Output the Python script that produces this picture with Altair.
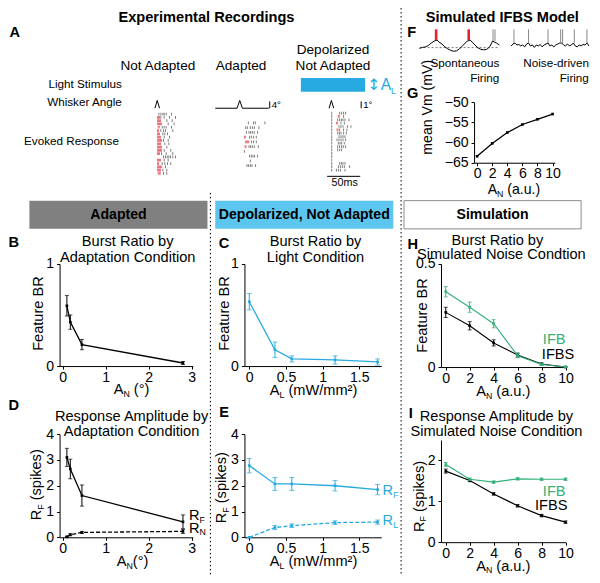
import altair as alt
import pandas as pd

# ---------------- values ----------------
# B: burst ratio by adaptation condition
b_an = [0.10, 0.18, 0.45, 2.80]
b_br = [0.59, 0.43, 0.21, 0.03]
b_br_err = [0.10, 0.07, 0.05, 0.015]
# C: burst ratio by light condition
c_al = [0.0, 0.35, 0.58, 1.17, 1.75]
c_br = [0.63, 0.16, 0.07, 0.06, 0.04]
c_br_err = [0.08, 0.075, 0.03, 0.04, 0.03]
# H: simulated burst ratio
h_an = [0, 2, 4, 6, 8, 10]
h_ifb = [0.365, 0.29, 0.21, 0.055, 0.012, 0.0]
h_ifb_err = [0.025, 0.025, 0.02, 0.01, 0.004, 0.0]
h_ifbs = [0.265, 0.20, 0.117, 0.058, 0.015, 0.0]
h_ifbs_err = [0.025, 0.02, 0.015, 0.01, 0.005, 0.0]
# D: response amplitude by adaptation condition
d_an = [0.10, 0.18, 0.45, 2.80]
d_rf = [3.10, 2.65, 1.62, 0.60]
d_rf_err = [0.35, 0.38, 0.41, 0.27]
d_rn = [0.02, 0.10, 0.19, 0.23]
d_rn_err = [0.02, 0.04, 0.04, 0.08]
# E: response amplitude by light condition
e_al = [0.0, 0.35, 0.58, 1.17, 1.75]
e_rf = [2.78, 2.07, 2.07, 2.00, 1.85]
e_rf_err = [0.28, 0.25, 0.25, 0.20, 0.20]
e_rl = [0.0, 0.38, 0.45, 0.57, 0.59]
e_rl_err = [0.0, 0.08, 0.07, 0.07, 0.08]
# I: simulated response amplitude
i_an = [0, 2, 4, 6, 8, 10]
i_ifb = [1.90, 1.54, 1.47, 1.55, 1.54, 1.54]
i_ifb_err = [0.05, 0.03, 0.03, 0.03, 0.03, 0.03]
i_ifbs = [1.74, 1.51, 1.18, 0.89, 0.65, 0.49]
i_ifbs_err = [0.05, 0.03, 0.03, 0.03, 0.03, 0.03]
# G: mean membrane potential
g_an = [0, 2, 4, 6, 8, 10]
g_vm = [-63.4, -60.2, -57.5, -55.5, -54.2, -52.9]

# F: example simulated traces (ms, mV)
f1_t = [0, 3.75, 7.5, 11.25, 15, 18.75, 22.5, 25, 28.75, 32.5, 36.25, 40, 43.75, 47.5, 51.25,
        55, 58.75, 61.25, 65, 67.5, 71.25, 75, 78.75, 82.5, 86.25, 90, 92.5, 93.75, 98.75, 102.5]
f1_v = [-60.5, -59.5, -59, -57.5, -55, -53, -52, -54, -56, -59, -61, -62.5, -63.5, -63, -61,
        -58, -55, -53, -52, -54, -57, -60, -61.5, -62, -61.5, -59, -55, -53, -55, -57]
f1_rest = -59.7
f1_spk_t = [20.6, 21.9, 62.5, 63.8, 94.4, 96.9]
f1_spk_burst = [1, 1, 1, 1, 0, 0]
f1_spk_from = [-52, -52, -52, -52, -53, -53]
f2_t = [0, 2.5, 5, 7.5, 10, 12.5, 15, 17.5, 20, 22.5, 25, 27.5, 30, 32.5, 35, 37.5, 40, 42.5, 45,
        47.5, 50, 52.5, 55, 57.5, 60, 62.5, 65, 67.5, 70, 72.5, 75, 77.5, 80, 82.5, 85, 87.5, 90,
        92.5, 95, 97.5, 100]
f2_v = [-58, -56, -55, -57, -56.5, -58, -57, -59, -56, -55, -58, -57, -59.5, -57, -58, -56.5, -59,
        -57, -56, -55, -58, -57, -59, -57, -56, -55, -55, -57, -58, -56, -58, -57, -55, -58, -59,
        -57, -58, -56.5, -57, -55, -58]
f2_spk_t = [3.75, 22.5, 47.5, 63.75, 66.25, 81.25, 97.5]
f2_spk_from = [-55, -55, -55, -55, -55, -55, -55]
spk_peak = -41

# A: whisker angle traces (ms, degrees)
wa_na_t = [0, 3.5, 7]
wa_na_v = [0, 1, 0]
wa_ad_t = [0, 33, 37, 41, 81]
wa_ad_v = [0, 0, 4, 0, 0]
wa_dp_t = [0, 3.5, 7]
wa_dp_v = [0, 1, 0]

# A: evoked spike rasters (ms per trial)
na_spikes = [
    [6, 9, 12, 14, 17, 25], [4, 5.5, 7, 9, 14, 22, 31], [4, 5.5, 7, 8.5, 18, 26],
    [4, 5.5, 7, 8.5, 10, 20, 29], [5, 6.5, 11, 14, 17, 25], [4, 5.5, 9, 13, 16, 27],
    [4, 5.5, 7, 12, 15, 19], [4, 5.5, 7, 8.5, 14, 22], [4, 5.5, 7, 8.5, 10, 13, 20],
    [4, 5.5, 7, 8.5, 15, 21], [4, 5.5, 7, 8.5, 10, 18], [4, 5.5, 7, 8.5, 10, 14, 24],
    [4, 5.5, 7, 10, 17, 27], [13, 16, 18.5, 21, 23.5, 27, 31], [4, 5.5, 7, 8.5, 14, 20],
    [4, 5.5, 11, 15, 19, 24], [4, 5.5, 7, 8.5, 10, 16], [4, 5.5, 7, 8.5, 12, 18],
    [5, 6.5, 8, 13, 18],
]
ad_spikes = [
    [50, 58, 60.5, 75], [46, 48.5, 53, 56, 59, 66], [47, 51, 53.5, 56, 59, 64],
    [44, 45.5, 52, 54.5, 58, 62], [46, 47.5, 49, 50.5, 55, 58, 62], [45, 46.5, 51, 53.5, 56, 59, 65],
    [44], [52, 54.5, 57, 59.5, 64], [53], [48, 50.5, 53, 55.5, 61],
]
dp_spikes = [
    [4, 16, 19, 22, 25], [4, 14, 15.5, 22], [4, 13, 16, 18.5, 21, 24, 30], [4, 11, 12.5, 18, 23],
    [4, 15, 18, 21, 28, 33], [4, 12, 13.5, 16, 22, 27], [4, 13, 15.5, 18, 22, 26], [4, 15, 18, 21, 24],
    [4, 12, 15, 18, 21, 25], [4, 14, 16.5, 19, 23], [4, 13, 16, 19, 21.5, 25], [4, 13, 16, 19],
    [4], [4], [4], [4, 16, 18.5, 21, 24], [4, 14, 17, 20, 23, 31], [4, 11, 14, 17, 24], [],
]

# ---------------- layout / style ----------------
K = 0.973
W, H = 584, 567
FONT = "Liberation Sans"
BLUE = "#27a9e1"
HDR_BLUE = "#5cc6ef"
GREEN = "#33b07a"
RED = "#e0252d"
DARK = "#333333"

layers = []
ONE = pd.DataFrame({"k": [0]})


def P(v):
    return round(v * K, 2)


def fs(v):
    return round(v * K, 1)


def text(s, x, y, size=14, weight="normal", align="center", color="black", angle=0, font=FONT):
    props = dict(text=s, fontSize=fs(size), fontWeight=weight, align=align,
                 baseline="middle", color=color, font=font)
    if angle:
        props["angle"] = angle
    layers.append(alt.Chart(ONE).mark_text(**props).encode(x=alt.value(P(x)), y=alt.value(P(y))))


AW = {' ': .278, '(': .333, ')': .333, '°': .4, '.': .278, '/': .278, '²': .333, 'a': .556,
      'b': .556, 'e': .556, 'i': .222, 'k': .5, 'm': .833, 'n': .556, 'p': .556, 's': .5,
      'u': .556, 'A': .667, 'F': .611, 'L': .556, 'N': .722, 'R': .722, 'W': .944}


def tw(s, size):
    return sum(AW.get(c, 0.556) for c in s) * size


def rich(parts, x, y, color="black", angle=0, anchor="center"):
    total = sum(tw(t, s) for t, s, d in parts)
    pos = -total / 2 if anchor == "center" else 0.0
    for t, s, d in parts:
        lead = len(t) - len(t.lstrip(" "))
        pos += tw(" " * lead, s)
        body = t.lstrip(" ")
        if angle:
            text(body, x + d, y - pos, size=s, align="left", color=color, angle=angle)
        else:
            text(body, x + pos, y + d, size=s, align="left", color=color)
        pos += tw(body, s)


def rule(x1, y1, x2=None, y2=None, color="black", width=1.0, dash=None):
    props = dict(color=color, strokeWidth=width)
    if dash:
        props["strokeDash"] = dash
    enc = dict(x=alt.value(P(x1)), y=alt.value(P(y1)))
    if x2 is not None:
        enc["x2"] = alt.value(P(x2))
    if y2 is not None:
        enc["y2"] = alt.value(P(y2))
    layers.append(alt.Chart(ONE).mark_rule(**props).encode(**enc))


def box(x1, y1, x2, y2, fill, stroke=None):
    props = dict(fill=fill)
    if stroke:
        props.update(stroke=stroke, strokeWidth=1)
    layers.append(alt.Chart(ONE).mark_rect(**props).encode(
        x=alt.value(P(x1)), x2=alt.value(P(x2)), y=alt.value(P(y1)), y2=alt.value(P(y2))))


def sx(dom, a, b):
    return alt.Scale(domain=dom, range=[P(a), P(b)], nice=False, zero=False)


def sy(dom, bottom, top):
    return alt.Scale(domain=dom, range=[P(bottom), P(top)], nice=False, zero=False)


AX = dict(grid=False, title=None, tickSize=3, tickColor="black", domainColor="black",
          labelColor="black", labelFont=FONT, labelFontSize=fs(14.5), labelFlush=False,
          labelOverlap=False, format="~r", domainWidth=1, tickWidth=1)


def xax(bottom, vals):
    return alt.Axis(orient="bottom", offset=P(bottom) - H, values=vals, labelPadding=1, **AX)


def yax(left, vals):
    return alt.Axis(orient="left", offset=-P(left), values=vals, labelPadding=3, **AX)


def series(x, y, e, xsc, ysc, color, dash=None, xa=None, ya=None, lw=1.3, cap=5):
    lo = [a - b for a, b in zip(y, e)]
    hi = [a + b for a, b in zip(y, e)]
    df = pd.DataFrame({"x": x, "y": y, "lo": lo, "hi": hi})
    base = alt.Chart(df)
    X0 = alt.X("x:Q", scale=xsc, axis=None)
    layers.append(base.mark_rule(color=color, strokeWidth=1).encode(
        X0, alt.Y("lo:Q", scale=ysc, axis=None), alt.Y2("hi:Q")))
    for f in ("lo", "hi"):
        layers.append(base.mark_tick(orient="horizontal", size=cap, thickness=1, color=color).encode(
            X0, alt.Y(f + ":Q", scale=ysc, axis=None)))
    lp = dict(color=color, strokeWidth=lw)
    if dash:
        lp["strokeDash"] = dash
    layers.append(base.mark_line(**lp).encode(
        alt.X("x:Q", scale=xsc, axis=xa), alt.Y("y:Q", scale=ysc, axis=ya)))
    layers.append(base.mark_point(shape="square", size=7, filled=True, color=color, opacity=1).encode(
        X0, alt.Y("y:Q", scale=ysc, axis=None)))


def trace(t, v, xsc, ysc, color="black", width=1.0):
    df = pd.DataFrame({"t": t, "v": v})
    layers.append(alt.Chart(df).mark_line(color=color, strokeWidth=width).encode(
        alt.X("t:Q", scale=xsc, axis=None), alt.Y("v:Q", scale=ysc, axis=None)))


def raster(rows, xsc, ysc, tick=2.8):
    red, blk = [], []
    for i, row in enumerate(rows):
        for j, t in enumerate(row):
            burst = (j > 0 and t - row[j - 1] <= 1.6) or (j < len(row) - 1 and row[j + 1] - t <= 1.6)
            (red if burst else blk).append({"t": t, "r": i + 1})
    for recs, col in ((blk, DARK), (red, RED)):
        if recs:
            layers.append(alt.Chart(pd.DataFrame(recs)).mark_tick(
                orient="vertical", size=P(tick), thickness=0.9, color=col).encode(
                alt.X("t:Q", scale=xsc, axis=None), alt.Y("r:Q", scale=ysc, axis=None)))


def spikes(ts, v0, xsc, ysc, color, width=1.0):
    df = pd.DataFrame({"t": ts, "v0": v0, "v1": [spk_peak] * len(ts)})
    layers.append(alt.Chart(df).mark_rule(color=color, strokeWidth=width).encode(
        alt.X("t:Q", scale=xsc, axis=None), alt.Y("v0:Q", scale=ysc, axis=None), alt.Y2("v1:Q")))


# ---------------- decorations ----------------
box(22, 198, 205, 227, "#808080")
box(213, 198, 396, 227, HDR_BLUE)
box(407, 198, 589, 227, "white", stroke="#8c8c8c")
rule(404, 0, y2=583, dash=[1.5, 2.5])
rule(208, 190, y2=583, dash=[1.5, 2.5])
text("Adapted", 113.5, 212.5, size=14.5, weight="bold")
text("Depolarized, Not Adapted", 304.5, 212.5, size=14.5, weight="bold")
text("Simulation", 498, 212.5, size=14.5, weight="bold")

# ---------------- panel A ----------------
text("Experimental Recordings", 204, 10, size=15, weight="bold")
text("A", 7, 26, size=15, weight="bold")
text("Not Adapted", 154, 60)
text("Adapted", 239.5, 60)
text("Depolarized", 334, 43)
text("Not Adapted", 334, 60)
text("Light Stimulus", 117, 78, size=12, align="right")
text("Whisker Angle", 117, 97, size=12, align="right")
text("Evoked Response", 114, 137, size=12, align="right")
box(301, 72, 367, 86, BLUE)
text("↕", 376, 79, size=16, color=BLUE, font="DejaVu Sans")
rich([("A", 16, 0), ("L", 9, 6)], 383, 79, color=BLUE, anchor="left")

na_x = sx([0, 50], 151, 185)
ad_x = sx([0, 100], 213, 281)
dp_x = sx([0, 50], 330, 364)
trace(wa_na_t, wa_na_v, na_x, sy([0, 1], 103, 95))
trace(wa_ad_t, wa_ad_v, ad_x, sy([0, 4], 103, 95))
trace(wa_dp_t, wa_dp_v, dp_x, sy([0, 1], 103, 95))
rule(269, 96, y2=103)
text("4°", 271, 99.5, size=10, align="left")
rule(363, 96, y2=103)
text("1°", 365, 99.5, size=10, align="left")
raster(na_spikes, na_x, sy([1, 19], 109, 170))
raster(ad_spikes, ad_x, sy([1, 10], 118, 162))
raster(dp_spikes, dp_x, sy([1, 19], 108, 170))
rule(328, 173, x2=362)
text("50ms", 346, 180, size=11)

# ---------------- panels F, G ----------------
text("Simulated IFBS Model", 508, 10, size=15, weight="bold")
text("F", 415, 26, size=15, weight="bold")
f1x = sx([0, 102.5], 423, 505)
f2x = sx([0, 100], 517, 597)
fy = sy([-65, -40], 46, 21)
layers.append(alt.Chart(pd.DataFrame({"v": [f1_rest]})).mark_rule(
    color="#555", strokeWidth=0.8, strokeDash=[2, 2]).encode(
    x=alt.value(P(423)), x2=alt.value(P(505)), y=alt.Y("v:Q", scale=fy, axis=None)))
trace(f1_t, f1_v, f1x, fy, width=1.0)
trace(f2_t, f2_v, f2x, fy, width=1.0)
spikes([t for t, b in zip(f1_spk_t, f1_spk_burst) if b],
       [v for v, b in zip(f1_spk_from, f1_spk_burst) if b], f1x, fy, RED, width=1.6)
spikes([t for t, b in zip(f1_spk_t, f1_spk_burst) if not b],
       [v for v, b in zip(f1_spk_from, f1_spk_burst) if not b], f1x, fy, "#888888", width=1.0)
spikes(f2_spk_t, f2_spk_from, f2x, fy, "#888888", width=1.0)
text("Spontaneous", 505, 57, size=12, align="right")
text("Firing", 505, 72, size=12, align="right")
text("Noise-driven", 597, 57, size=12, align="right")
text("Firing", 597, 72, size=12, align="right")

text("G", 416, 88, size=15, weight="bold")
gx = sx([-0.4, 10.3], 479, 562)
gy = sy([-65, -50], 159, 97)
series(g_an, g_vm, [0] * len(g_an), gx, gy, "black", xa=xax(159, [0, 2, 4, 6, 8, 10]),
       ya=yax(479, [-65, -60, -55, -50]), cap=0.1)
text("mean Vm (mV)", 432, 102, angle=270, size=14.5)
rich([("A", 14.5, 0), ("N", 9, 4), (" (a.u.)", 14.5, 0)], 520, 187)

# ---------------- panel B ----------------
text("B", 6, 242, size=15, weight="bold")
text("Burst Ratio by", 123, 240, size=15)
text("Adaptation Condition", 123, 257, size=15)
bx = sx([-0.07, 3.03], 53, 190)
by = sy([0, 1], 368, 263)
series(b_an, b_br, b_br_err, bx, by, "black", xa=xax(368, [0, 1, 2, 3]), ya=yax(53, [0, 1]), cap=4)
text("Feature BR", 32, 314, angle=270, size=15)
rich([("A", 15, 0), ("N", 9, 4), (" (°)", 15, 0)], 127, 393)

# ---------------- panel C ----------------
text("C", 222, 243, size=15, weight="bold")
text("Burst Ratio by", 316, 240, size=15)
text("Light Condition", 316, 257, size=15)
cx = sx([-0.066, 1.8], 243, 383.6)
cy = sy([0, 1], 368, 263)
series(c_al, c_br, c_br_err, cx, cy, BLUE, xa=xax(368, [0, 0.5, 1, 1.5]), ya=yax(243, [0, 1]))
text("Feature BR", 223, 314, angle=270, size=15)
rich([("A", 15, 0), ("L", 9, 4), (" (mW/mm²)", 15, 0)], 314, 394)

# ---------------- panel H ----------------
text("H", 416, 244, size=15, weight="bold")
text("Burst Ratio by", 503, 239, size=15)
text("Simulated Noise Condtion", 507, 254, size=15)
hx = sx([-0.4, 10], 445, 573)
hy = sy([0, 0.5], 369, 263)
series(h_an, h_ifbs, h_ifbs_err, hx, hy, "black", xa=xax(369, [0, 2, 4, 6, 8, 10]),
       ya=yax(445, [0, 0.5]), lw=1.1, cap=4)
series(h_an, h_ifb, h_ifb_err, hx, hy, GREEN, lw=1.1, cap=4)
text("Feature BR", 427, 316, angle=270, size=15)
text("IFB", 573, 341, size=15, color=GREEN, align="right")
text("IFBS", 582, 357, size=15, align="right")
rich([("A", 15, 0), ("N", 9, 4), (" (a.u.)", 15, 0)], 509, 395)

# ---------------- panel D ----------------
text("D", 6, 409, size=15, weight="bold")
text("Response Amplitude by", 127, 420, size=15)
text("Adaptation Condition", 127, 436, size=15)
dx_ = sx([-0.07, 3.03], 53, 190)
dy_ = sy([0, 4], 544, 438)
series(d_an, d_rf, d_rf_err, dx_, dy_, "black", xa=xax(544, [0, 1, 2, 3]), ya=yax(53, [0, 1, 2, 3, 4]), cap=4)
series(d_an, d_rn, d_rn_err, dx_, dy_, "black", dash=[4, 2], cap=4)
rich([("R", 15, 0), ("F", 9, 4), (" (spikes)", 15, 0)], 30, 490, angle=270)
rich([("A", 15, 0), ("N", 9, 4), ("(°)", 15, 0)], 128, 569)
rich([("R", 15, 0), ("F", 9, 4)], 186, 522, anchor="left")
rich([("R", 15, 0), ("N", 9, 4)], 186, 535, anchor="left")

# ---------------- panel E ----------------
text("E", 222, 416, size=15, weight="bold")
ex = sx([-0.066, 1.8], 243, 383.6)
ey = sy([0, 4], 544, 438)
series(e_al, e_rf, e_rf_err, ex, ey, BLUE, xa=xax(544, [0, 0.5, 1, 1.5]), ya=yax(243, [0, 1, 2, 3, 4]))
series(e_al, e_rl, e_rl_err, ex, ey, BLUE, dash=[4, 2])
rich([("R", 15, 0), ("F", 9, 4), (" (spikes)", 15, 0)], 220, 493, angle=270)
rich([("A", 15, 0), ("L", 9, 4), (" (mW/mm²)", 15, 0)], 314, 569)
rich([("R", 15, 0), ("F", 9, 4)], 385, 496, color=BLUE, anchor="left")
rich([("R", 15, 0), ("L", 9, 4)], 385, 527, color=BLUE, anchor="left")

# ---------------- panel I ----------------
text("I", 414, 417, size=15, weight="bold")
text("Response Amplitude by", 502, 420, size=15)
text("Simulated Noise Condition", 502, 436, size=15)
ix = sx([-0.4, 10], 445, 573)
iy = sy([0, 2.5], 549, 444)
series(i_an, i_ifbs, i_ifbs_err, ix, iy, "black", xa=xax(549, [0, 2, 4, 6, 8, 10]),
       ya=yax(445, [0, 1, 2]), lw=1.2, cap=4)
series(i_an, i_ifb, i_ifb_err, ix, iy, GREEN, lw=1.2, cap=4)
rich([("R", 15, 0), ("F", 9, 4), (" (spikes)", 15, 0)], 423, 502, angle=270)
text("IFB", 573, 497, size=15, color=GREEN, align="right")
text("IFBS", 575, 512, size=15, align="right")
rich([("A", 15, 0), ("N", 9, 4), (" (a.u.)", 15, 0)], 509, 574)

chart = (
    alt.layer(*layers)
    .resolve_scale(x="independent", y="independent")
    .resolve_axis(x="independent", y="independent")
    .properties(width=W, height=H, padding=0, autosize=alt.AutoSizeParams(type="none"))
    .configure_view(stroke=None)
)
chart.save("out.html", embed_options={"renderer": "svg", "actions": False})
